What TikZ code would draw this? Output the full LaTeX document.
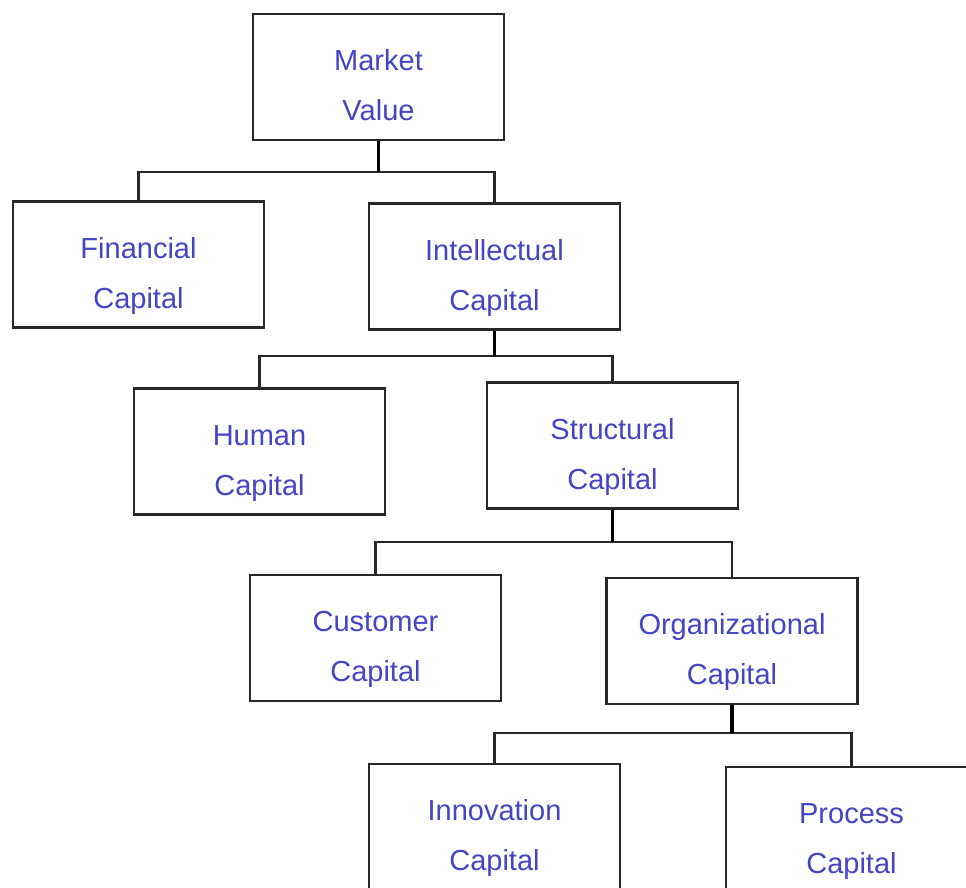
\documentclass[tikz,border=0pt]{standalone}
\usepackage{fontspec}
\setmainfont{Liberation Sans}
\definecolor{txt}{RGB}{68,68,196}
\definecolor{ln}{RGB}{40,40,40}
\newcommand\twol[2]{\rule{0pt}{44pt}#1\\#2\rule[-7pt]{0pt}{7pt}}
\begin{document}
\begin{tikzpicture}[x=1pt,y=-1pt,
 box/.style={draw=ln, line width=2.4pt, minimum width=251pt, minimum height=126pt, inner sep=0pt, align=center, text=txt, font=\fontsize{29}{50}\selectfont},
 bus/.style={draw=ln, line width=2.4pt},
 drop/.style={draw=black, line width=3.4pt}]
\useasboundingbox (0,0) rectangle (966,887);
\clip (0,0) rectangle (966,887);
\fill[white] (0,0) rectangle (966,887);
\node[box] (mv) at (378.5,77) {\twol{Market}{Value}};
\node[box] (fc) at (138.5,264.5) {\twol{Financial}{Capital}};
\node[box] (ic) at (494.5,266.5) {\twol{Intellectual}{Capital}};
\node[box] (hc) at (259.5,451.5) {\twol{Human}{Capital}};
\node[box] (sc) at (612.5,445.5) {\twol{Structural}{Capital}};
\node[box] (cc) at (375.5,638) {\twol{Customer}{Capital}};
\node[box] (oc) at (732,641) {\twol{Organizational}{Capital}};
\node[box] (inc) at (494.5,827) {\twol{Innovation}{Capital}};
\node[box] (pc) at (851.5,830) {\twol{Process}{Capital}};
\coordinate (b1) at (0,172);
\coordinate (b2) at (0,356);
\coordinate (b3) at (0,542);
\coordinate (b4) at (0,733);
\draw[bus] (fc.north) -- (fc.north |- b1) -- (ic.north |- b1) -- (ic.north);
\draw[drop] (mv.south) -- (mv.south |- b1);
\draw[bus] (hc.north) -- (hc.north |- b2) -- (sc.north |- b2) -- (sc.north);
\draw[drop] (ic.south) -- (ic.south |- b2);
\draw[bus] (cc.north) -- (cc.north |- b3) -- (oc.north |- b3) -- (oc.north);
\draw[drop] (sc.south) -- (sc.south |- b3);
\draw[bus] (inc.north) -- (inc.north |- b4) -- (pc.north |- b4) -- (pc.north);
\draw[drop] (oc.south) -- (oc.south |- b4);
\end{tikzpicture}
\end{document}
